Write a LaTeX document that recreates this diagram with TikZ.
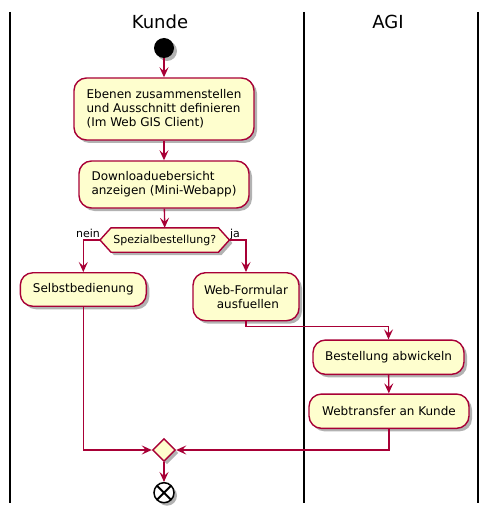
\documentclass[tikz,border=0pt]{standalone}
\usepackage{fontspec}
\setmainfont{DejaVu Sans}
\usetikzlibrary{arrows.meta,shapes.geometric,shadows,backgrounds,calc}
\definecolor{pbord}{HTML}{A80036}
\definecolor{pfill}{HTML}{FEFECE}
\tikzset{
  pshadow/.style={drop shadow={shadow xshift=3pt,shadow yshift=-3pt,opacity=0.3,fill=black}},
  act/.style={draw=pbord, fill=pfill, line width=1.4pt, rounded corners=12.5pt,
    font=\fontsize{12}{14}\selectfont, inner sep=0pt, pshadow},
  flow/.style={draw=pbord, line width=1.4pt, -{Stealth[length=10pt,width=9pt,inset=4pt]}},
  lane/.style={line width=1.5pt, black},
  lanetitle/.style={font=\fontsize{18}{20}\selectfont, inner sep=0pt},
  lbl/.style={font=\fontsize{11}{13}\selectfont, inner sep=0pt},
}
\begin{document}
\begin{tikzpicture}[x=1pt,y=-1pt]
\useasboundingbox (0,0) rectangle (489,513);
% swimlanes
\draw[lane] (10,12) -- (10,503);
\draw[lane] (304,12) -- (304,503);
\draw[lane] (478,12) -- (478,503);
\node[lanetitle] (tk) at (160,22) {Kunde};
\node[lanetitle] (ta) at (388,22) {AGI};
% nodes
\node[circle, fill=black, minimum size=20pt, inner sep=0pt, pshadow] (start) at (164,48) {};
\node[act, minimum width=180pt, minimum height=62pt, align=left] (b1) at (164,109)
  {Ebenen zusammenstellen\\und Ausschnitt definieren\\(Im Web GIS Client)};
\node[act, minimum width=170pt, minimum height=47pt, align=left] (b2) at (164,184.5)
  {Downloaduebersicht\\anzeigen (Mini-Webapp)};
\node[lbl, minimum width=129pt, minimum height=24pt] (dec) at (164.7,240) {Spezialbestellung?};
\begin{scope}[on background layer]
\path[draw=pbord, fill=pfill, line width=1.4pt, pshadow]
  (dec.west) -- ([xshift=11pt]dec.north west) -- ([xshift=-11pt]dec.north east) -- (dec.east)
  -- ([xshift=-11pt]dec.south east) -- ([xshift=11pt]dec.south west) -- cycle;
\end{scope}
\node[lbl, anchor=base east] (lnein) at ([yshift=2.5pt]dec.west) {nein};
\node[lbl, anchor=base west] (lja) at ([xshift=0.5pt,yshift=2.5pt]dec.east) {ja};
\node[act, minimum width=126pt, minimum height=33.5pt] (s) at (83.3,289.5) {Selbstbedienung};
\node[act, minimum width=106pt, minimum height=48pt, align=center] (w) at (246,296.7)
  {Web-Formular\\\ ausfuellen};
\node[act, minimum width=151pt, minimum height=34.3pt] (best) at (388.5,357.2) {Bestellung abwickeln};
\node[act, minimum width=160pt, minimum height=34.3pt] (web) at (389,411.2) {Webtransfer an Kunde};
\node[diamond, draw=pbord, fill=pfill, line width=1.4pt, minimum width=23pt, minimum height=23pt,
  inner sep=0pt, pshadow] (m) at (164,450) {};
\node[circle, draw=black, fill=white, line width=1.5pt, minimum size=20pt, inner sep=0pt, pshadow,
  path picture={\draw[line width=2pt] ([shift={(-7pt,-7pt)}]path picture bounding box.center) -- ([shift={(7pt,7pt)}]path picture bounding box.center);
                \draw[line width=2pt] ([shift={(-7pt,7pt)}]path picture bounding box.center) -- ([shift={(7pt,-7pt)}]path picture bounding box.center);}]
  (end) at (164,492.7) {};
% connectors
\draw[flow] (start) -- (b1);
\draw[flow] (b1) -- (b2);
\draw[flow] (b2) -- (dec.north);
\draw[flow] (dec.west) -| (s);
\draw[flow] (dec.east) -| (w);
\draw[flow] (w.south) -- ++(0,4.8) -| (best);
\draw[flow] (best) -- (web);
\draw[flow] (s.south) |- (m.west);
\draw[flow] (web.south) |- (m.east);
\draw[flow] (m) -- (end);
\end{tikzpicture}
\end{document}
